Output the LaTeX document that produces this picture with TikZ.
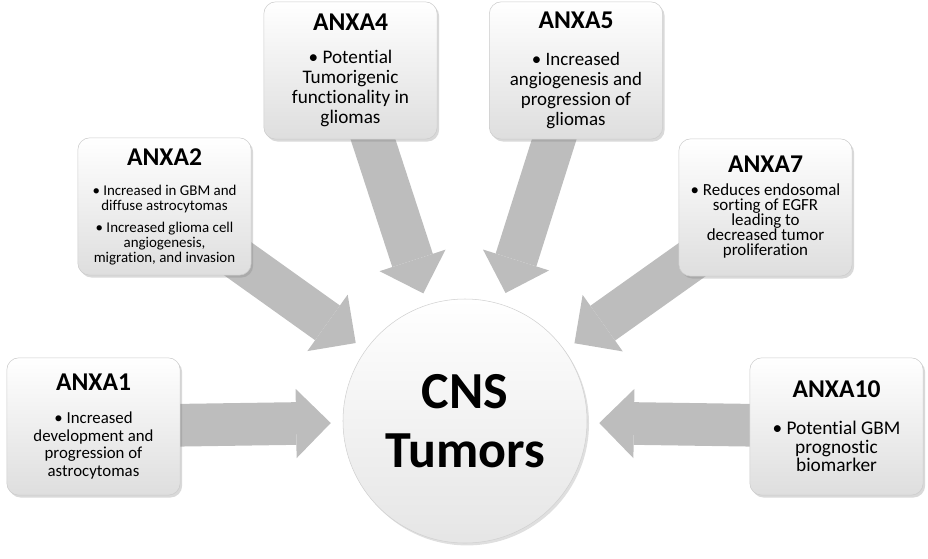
\documentclass[tikz,border=0pt]{standalone}
\usepackage{fontspec}
\setmainfont{Carlito}[Ligatures=NoCommon]
\usetikzlibrary{shapes,arrows.meta,positioning,calc,shadows}
\pgfdeclarelayer{background}
\pgfsetlayers{background,main}

\newcommand{\anxtitle}[1]{{\fontsize{19.2}{21}\selectfont\bfseries #1}}

\begin{document}
\begin{tikzpicture}[x=0.75pt, y=-0.75pt,
    anxbox/.style={draw=black!20, rounded corners=9pt, top color=white, bottom color=black!13,
        drop shadow={opacity=0.3, shadow xshift=1.5pt, shadow yshift=-1.8pt},
        minimum width=130pt, minimum height=103pt, align=center, inner sep=1pt},
    bigarrow/.style={draw=black!26, line width=32pt,
        -{Triangle[length=26pt, width=52pt, line width=0pt]}, shorten >=9pt}]
            \useasboundingbox (0,0) rectangle (928,558);

            % Center
            \node[circle, draw=black!18, minimum size=183pt, top color=white, bottom color=black!10,
                drop shadow={opacity=0.25, shadow xshift=1.5pt, shadow yshift=-1.8pt},
                align=center, font=\fontsize{39}{44}\selectfont\bfseries] (tumor) at (465,421) {CNS\\Tumors};

            % Annexins
            \node[anxbox, font=\fontsize{12.6}{13.3}\selectfont] (anxa1) at (93.5,426.5)
                {\anxtitle{ANXA1}\\[11.5pt] • Increased\\development and\\progression of\\astrocytomas};
            \node[anxbox, font=\fontsize{11.2}{11.25}\selectfont] (anxa2) at (164.5,206.5)
                {\anxtitle{ANXA2}\\[11.5pt] • Increased in GBM and\\diffuse astrocytomas\\[5pt] • Increased glioma cell\\angiogenesis,\\migration, and invasion};
            \node[anxbox, font=\fontsize{14.4}{15}\selectfont] (anxa4) at (350.5,70.5)
                {\anxtitle{ANXA4}\\[10pt] • Potential\\Tumorigenic\\functionality in\\gliomas};
            \node[anxbox, font=\fontsize{14.2}{15}\selectfont] (anxa5) at (576,70.5)
                {\anxtitle{ANXA5}\\[12.5pt] • Increased\\angiogenesis and\\progression of\\gliomas};
            \node[anxbox, font=\fontsize{12.7}{11.25}\selectfont] (anxa7) at (765.5,207.5)
                {\anxtitle{ANXA7}\\[6pt] • Reduces endosomal\\sorting of EGFR\\leading to\\decreased tumor\\proliferation};
            \node[anxbox, font=\fontsize{14.5}{13.8}\selectfont] (anxa10) at (836.5,426.5)
                {\anxtitle{ANXA10}\\[14pt] • Potential GBM\\prognostic\\biomarker};

            % Arrows
            \begin{pgfonlayer}{background}
            \foreach \src in {anxa1,anxa2,anxa4,anxa5,anxa7,anxa10}
                \draw[bigarrow] (\src.center) -- (tumor);
            \end{pgfonlayer}
        \end{tikzpicture}
\end{document}
